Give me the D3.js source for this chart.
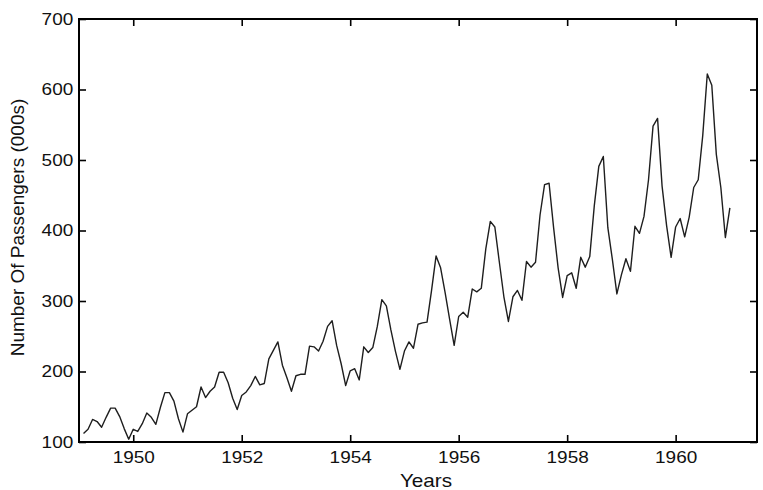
<!DOCTYPE html>
<html>
<head>
<meta charset="utf-8">
<script src="https://cdn.jsdelivr.net/npm/d3@7"></script>
<style>
  body { margin: 0; background: #fff; }
  text { font-family: "Liberation Sans", Arial, sans-serif; fill: #111; }
</style>
</head>
<body>
<div id="chart"></div>
<script>
// monthly airline passengers (thousands), one list per year
const startYear = 1949;
const passengers1949 = [112, 118, 132, 129, 121, 135, 148, 148, 136, 119, 104, 118];
const passengers1950 = [115, 126, 141, 135, 125, 149, 170, 170, 158, 133, 114, 140];
const passengers1951 = [145, 150, 178, 163, 172, 178, 199, 199, 184, 162, 146, 166];
const passengers1952 = [171, 180, 193, 181, 183, 218, 230, 242, 209, 191, 172, 194];
const passengers1953 = [196, 196, 236, 235, 229, 243, 264, 272, 237, 211, 180, 201];
const passengers1954 = [204, 188, 235, 227, 234, 264, 302, 293, 259, 229, 203, 229];
const passengers1955 = [242, 233, 267, 269, 270, 315, 364, 347, 312, 274, 237, 278];
const passengers1956 = [284, 277, 317, 313, 318, 374, 413, 405, 355, 306, 271, 306];
const passengers1957 = [315, 301, 356, 348, 355, 422, 465, 467, 404, 347, 305, 336];
const passengers1958 = [340, 318, 362, 348, 363, 435, 491, 505, 404, 359, 310, 337];
const passengers1959 = [360, 342, 406, 396, 420, 472, 548, 559, 463, 407, 362, 405];
const passengers1960 = [417, 391, 419, 461, 472, 535, 622, 606, 508, 461, 390, 432];

const xTicks = [1950, 1952, 1954, 1956, 1958, 1960];
const yTicks = [100, 200, 300, 400, 500, 600, 700];

// -----------------------------
// SIZE + SVG
// -----------------------------
const width = 763, height = 490;
const margin = { top: 19, right: 6, bottom: 48, left: 79 };
const plotWidth = width - margin.left - margin.right;
const plotHeight = height - margin.top - margin.bottom;

const svg = d3.select("#chart").append("svg")
    .attr("width", width)
    .attr("height", height);

const g = svg.append("g")
    .attr("transform", `translate(${margin.left},${margin.top})`);

// flatten the years into one series, month k sits at year + (k+1)/12
const allYears = [passengers1949, passengers1950, passengers1951, passengers1952,
    passengers1953, passengers1954, passengers1955, passengers1956,
    passengers1957, passengers1958, passengers1959, passengers1960];
const series = [];
allYears.forEach((vals, yi) => {
    vals.forEach((v, m) => {
        series.push({ t: startYear + yi + (m + 1) / 12, value: v });
    });
});

const x = d3.scaleLinear().domain([1949, 1961.5]).range([0, plotWidth]);
const y = d3.scaleLinear().domain([100, 700]).range([plotHeight, 0]);

// -----------------------------
// AXES (ticks point inward, like matlab)
// -----------------------------
const stretch = "scale(1.15,1)";

const xAxis = g.append("g")
    .attr("transform", `translate(0,${plotHeight})`)
    .call(d3.axisBottom(x).tickValues(xTicks).tickFormat(d3.format("d"))
        .tickSize(-7).tickPadding(9));
xAxis.selectAll("text")
    .attr("transform", stretch)
    .style("font-size", "16.5px");

const yAxis = g.append("g")
    .call(d3.axisLeft(y).tickValues(yTicks).tickSize(-7).tickPadding(5));
yAxis.selectAll("text")
    .attr("transform", stretch)
    .style("font-size", "16.5px");

g.append("g")
    .call(d3.axisTop(x).tickValues(xTicks).tickSize(-7).tickFormat(""));
g.append("g")
    .attr("transform", `translate(${plotWidth},0)`)
    .call(d3.axisRight(y).tickValues(yTicks).tickSize(-7).tickFormat(""));

g.selectAll(".domain").remove();
g.selectAll(".tick line").attr("stroke", "#000").attr("stroke-width", 1.6);
g.selectAll(".tick text").attr("fill", "#111").attr("font-family", "Liberation Sans, Arial, sans-serif");

// -----------------------------
// LINE
// -----------------------------
const line = d3.line()
    .x(d => x(d.t))
    .y(d => y(d.value));

g.append("path")
    .datum(series)
    .attr("fill", "none")
    .attr("stroke", "#1e1e1e")
    .attr("stroke-width", 1.4)
    .attr("stroke-linejoin", "round")
    .attr("d", line);

// frame
g.append("rect")
    .attr("width", plotWidth)
    .attr("height", plotHeight)
    .attr("fill", "none")
    .attr("stroke", "#000")
    .attr("stroke-width", 2);

// -----------------------------
// AXIS LABELS
// -----------------------------
svg.append("text")
    .attr("transform", `translate(${margin.left + plotWidth / 2 + 8},${height - 3}) ${stretch}`)
    .attr("text-anchor", "middle")
    .style("font-size", "18px")
    .text("Years");

svg.append("text")
    .attr("transform", `translate(24,${margin.top + plotHeight / 2 - 3}) rotate(-90)`)
    .attr("text-anchor", "middle")
    .style("font-size", "19px")
    .text("Number Of Passengers (000s)");
</script>
</body>
</html>
